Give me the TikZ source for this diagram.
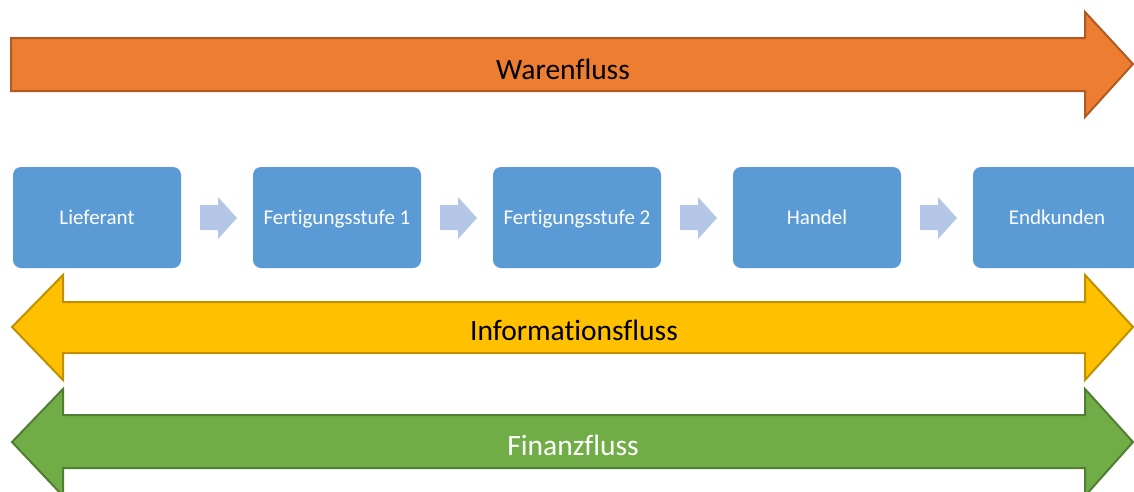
\documentclass[tikz,border=0pt]{standalone}
\usepackage{fontspec}
\setmainfont{Carlito}[Ligatures=NoCommon]
\definecolor{orangefill}{HTML}{ED7D31}
\definecolor{orangeline}{HTML}{AE5A21}
\definecolor{goldfill}{HTML}{FFC000}
\definecolor{goldline}{HTML}{BF9000}
\definecolor{greenfill}{HTML}{70AD47}
\definecolor{greenline}{HTML}{507E32}
\definecolor{stagefill}{HTML}{5B9BD5}
\definecolor{stepfill}{HTML}{B4C7E7}
\begin{document}
\begin{tikzpicture}[x=1pt,y=-1pt,
  bigarrow/.style={line width=2pt,line join=miter},
  stagebox/.style={fill=stagefill,rounded corners=8pt,minimum width=168pt,minimum height=101pt,
    inner sep=0pt,text=white,font=\fontsize{21}{25}\selectfont,text height=16pt,text depth=3pt},
  flowlabel/.style={font=\fontsize{29.5}{34}\selectfont,inner sep=0pt,text height=20pt,text depth=7pt},
  steparrow/.style={fill=stepfill,draw=none}]
\useasboundingbox (0,0) rectangle (1134,491);
\clip (0,0) rectangle (1134,491);

% Warenfluss: single arrow to the right
\draw[bigarrow,fill=orangefill,draw=orangeline]
  (11,38) -- (1085,38) -- (1085,12) -- (1133,64) -- (1085,117) -- (1085,91) -- (11,91) -- cycle;
\node[flowlabel] (waren) at (563,73) {Warenfluss};

% Stages of the supply chain
\foreach \i/\name/\txt in {0/s1/Lieferant,1/s2/Fertigungsstufe 1,2/s3/Fertigungsstufe 2,3/s4/Handel,4/s5/Endkunden}{
  \node[stagebox] (\name) at (97+240*\i,217.5) {\txt};
}

% Small arrows between the stages
\foreach \i in {0,1,2,3}{
  \begin{scope}[xshift=240*\i]
    \fill[steparrow] (200,205) -- (218,205) -- (218,197) -- (237,218) -- (218,239) -- (218,230) -- (200,230) -- cycle;
  \end{scope}
}

% Informationsfluss: double arrow
\draw[bigarrow,fill=goldfill,draw=goldline]
  (12,327) -- (63,275) -- (63,302) -- (1085,302) -- (1085,275) -- (1133,327)
  -- (1085,380) -- (1085,353) -- (63,353) -- (63,380) -- cycle;
\node[flowlabel] (info) at (574,334) {Informationsfluss};

% Finanzfluss: double arrow
\draw[bigarrow,fill=greenfill,draw=greenline]
  (12,442) -- (63,389) -- (63,415) -- (1085,415) -- (1085,389) -- (1133,442)
  -- (1085,496) -- (1085,468) -- (63,468) -- (63,496) -- cycle;
\node[flowlabel,text=white] (finanz) at (573,449) {Finanzfluss};
\end{tikzpicture}
\end{document}
